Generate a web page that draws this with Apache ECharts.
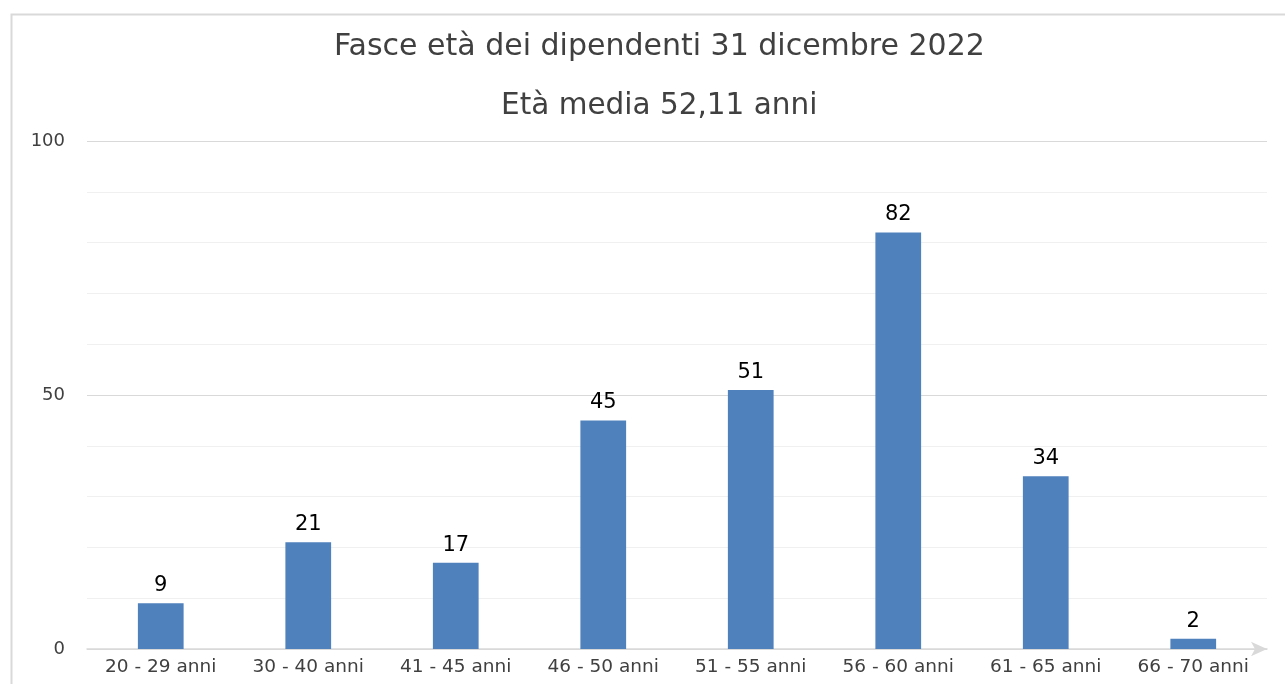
<!DOCTYPE html>
<html>
<head>
<meta charset="utf-8">
<script src="https://cdn.jsdelivr.net/npm/echarts@6/dist/echarts.min.js"></script>
<style>
  html, body { margin: 0; padding: 0; background: #fff; }
  #chart { width: 1285px; height: 684px; }
</style>
</head>
<body>
<div id="chart"></div>
<script>
// Fasce età dei dipendenti - bar chart
const categories = ['20 - 29 anni', '30 - 40 anni', '41 - 45 anni', '46 - 50 anni',
  '51 - 55 anni', '56 - 60 anni', '61 - 65 anni', '66 - 70 anni'];
const dipendenti = [9, 21, 17, 45, 51, 82, 34, 2];
const yTicks = [0, 50, 100];

const font = 'DejaVu Sans';
const chart = echarts.init(document.getElementById('chart'));

chart.setOption({
  animation: false,
  textStyle: { fontFamily: font },
  title: [
    {
      text: 'Fasce età dei dipendenti 31 dicembre 2022',
      left: 329, top: 27,
      textStyle: { fontFamily: font, fontSize: 30, fontWeight: 'normal', color: '#404040' }
    },
    {
      text: 'Età media 52,11 anni',
      left: 496, top: 86,
      textStyle: { fontFamily: font, fontSize: 29.5, fontWeight: 'normal', color: '#404040' }
    }
  ],
  graphic: [{
    type: 'rect',
    shape: { x: 11.5, y: 14.5, width: 1400, height: 800 },
    style: { fill: 'none', stroke: '#d9d9d9', lineWidth: 2 },
    silent: true
  }],
  grid: { left: 87, right: 18, top: 141, bottom: 35 },
  xAxis: {
    type: 'category',
    data: categories,
    axisLine: {
      lineStyle: { color: '#d9d9d9', width: 1.5 },
      symbol: ['none', 'arrow'],
      symbolSize: [11, 16],
      symbolOffset: [0, 0]
    },
    axisTick: { show: false },
    axisLabel: { color: '#404040', fontSize: 18.5, margin: 9 }
  },
  yAxis: {
    type: 'value',
    min: 0, max: 100, interval: 10,
    axisLine: { show: false },
    axisTick: { show: false },
    axisLabel: {
      color: '#404040', fontSize: 18, margin: 22,
      formatter: v => (yTicks.includes(v) ? String(v) : '')
    },
    splitLine: {
      lineStyle: { color: ['#d9d9d9', '#f0f0f0', '#f0f0f0', '#f0f0f0', '#f0f0f0'], width: 1 }
    }
  },
  series: [{
    type: 'bar',
    data: dipendenti,
    barWidth: '31%',
    itemStyle: { color: '#4f81bd' },
    label: {
      show: true, position: 'top', distance: 7,
      color: '#000', fontSize: 21, fontFamily: font
    }
  }]
});
</script>
</body>
</html>
